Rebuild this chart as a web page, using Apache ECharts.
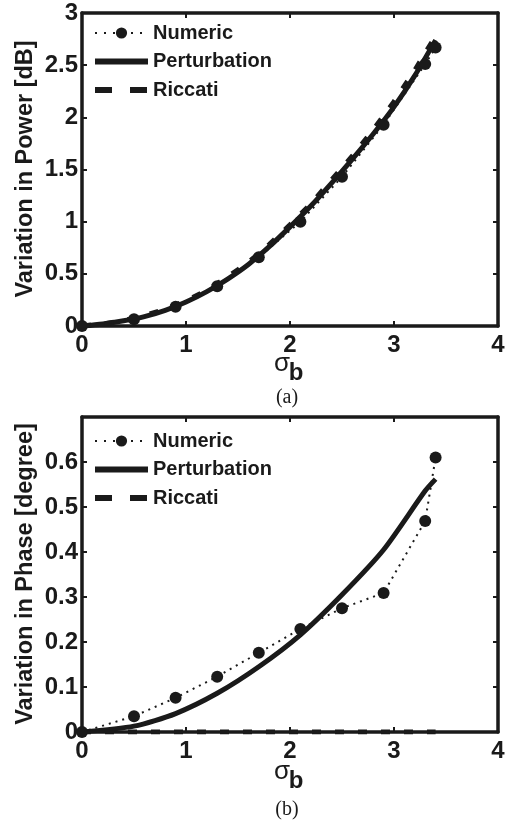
<!DOCTYPE html>
<html>
<head>
<meta charset="utf-8">
<script src="https://cdn.jsdelivr.net/npm/echarts@6/dist/echarts.min.js"></script>
<style>
  html, body { margin: 0; padding: 0; background: #fff; }
  #main { width: 513px; height: 823px; }
</style>
</head>
<body>
<div id="main"></div>
<script>
// sigma_b sample points
var numericX = [0, 0.5, 0.9, 1.3, 1.7, 2.1, 2.5, 2.9, 3.3, 3.4];
var curveX = [0, 0.2, 0.4, 0.6, 0.8, 1.0, 1.2, 1.4, 1.6, 1.8, 2.0, 2.2, 2.4, 2.6, 2.8, 3.0, 3.2, 3.4];

// (a) variation in power [dB]
var powerNumeric = [0, 0.065, 0.185, 0.38, 0.66, 1.0, 1.43, 1.93, 2.51, 2.67];
var powerPert = [0, 0.02, 0.05, 0.09, 0.15, 0.23, 0.33, 0.45, 0.59, 0.76, 0.95, 1.15, 1.37, 1.6, 1.84, 2.1, 2.4, 2.74];
var powerRiccati = [0, 0.02, 0.05, 0.10, 0.16, 0.24, 0.34, 0.47, 0.61, 0.78, 0.97, 1.17, 1.40, 1.63, 1.88, 2.15, 2.45, 2.78];

// (b) variation in phase [degree]
var pertX = [0, 0.5, 0.9, 1.3, 1.7, 2.1, 2.5, 2.9, 3.3, 3.4];
var phaseNumeric = [0, 0.035, 0.076, 0.123, 0.176, 0.229, 0.275, 0.309, 0.469, 0.61];
var phasePert = [0, 0.013, 0.041, 0.086, 0.145, 0.216, 0.305, 0.405, 0.536, 0.562];
var riccatiX = [0, 3.4];
var phaseRiccati = [0, 0];

// axis ticks
var xTicks = [0, 1, 2, 3, 4];
var powerTicks = [0, 0.5, 1, 1.5, 2, 2.5, 3];
var phaseTicks = [0, 0.1, 0.2, 0.3, 0.4, 0.5, 0.6, 0.7];

var names = ['Numeric', 'Perturbation', 'Riccati'];

function pairs(xs, ys) {
  return xs.map(function (x, i) { return [x, ys[i]]; });
}

var black = '#1a1a1a';
var font = 'Liberation Sans';
var labelStyle = { color: black, fontSize: 24, fontWeight: 'bold', fontFamily: font };
var lineStyle = { color: black, width: 3.5 };

function xAxes(grid) {
  var base = {
    type: 'value', gridIndex: grid,
    min: xTicks[0], max: xTicks[xTicks.length - 1], interval: xTicks[1] - xTicks[0],
    splitLine: { show: false },
    axisLine: { onZero: false, lineStyle: lineStyle },
    axisTick: { inside: true, length: 5, lineStyle: { color: black, width: 2 } }
  };
  var bottom = Object.assign({}, base, {
    position: 'bottom',
    axisLabel: Object.assign({ margin: 7 }, labelStyle)
  });
  var top = Object.assign({}, base, { position: 'top', axisLabel: { show: false } });
  return [bottom, top];
}

function yAxes(grid, ticks, hideMax) {
  var base = {
    type: 'value', gridIndex: grid,
    min: ticks[0], max: ticks[ticks.length - 1], interval: ticks[1] - ticks[0],
    splitLine: { show: false },
    axisLine: { onZero: false, lineStyle: lineStyle },
    axisTick: { inside: true, length: 5, lineStyle: { color: black, width: 2 } }
  };
  var left = Object.assign({}, base, {
    position: 'left',
    axisLabel: Object.assign({ margin: 4, showMaxLabel: !hideMax }, labelStyle)
  });
  var right = Object.assign({}, base, { position: 'right', axisLabel: { show: false } });
  return [left, right];
}

function seriesFor(grid, numX, numY, pX, pY, rX, rY) {
  return [
    {
      name: names[0], type: 'line', xAxisIndex: grid * 2, yAxisIndex: grid * 2,
      data: pairs(numX, numY),
      symbol: 'circle', symbolSize: 12,
      itemStyle: { color: black },
      lineStyle: { color: black, width: 2, type: [2, 5] },
      z: 4
    },
    {
      name: names[1], type: 'line', xAxisIndex: grid * 2, yAxisIndex: grid * 2,
      data: pairs(pX, pY),
      symbol: 'none', smooth: 0.25,
      itemStyle: { color: black },
      lineStyle: { color: black, width: 5 },
      z: 3
    },
    {
      name: names[2], type: 'line', xAxisIndex: grid * 2, yAxisIndex: grid * 2,
      data: pairs(rX, rY),
      symbol: 'none',
      itemStyle: { color: black },
      lineStyle: { color: black, width: 5, type: [9, 14] },
      z: 3
    }
  ];
}

function legendFor(top) {
  return {
    orient: 'vertical', left: 87, top: top,
    itemWidth: 53, itemHeight: 14, itemGap: 8.5,
    data: [
      { name: names[0], lineStyle: { width: 2, type: [2, 7] } },
      { name: names[1], itemStyle: { opacity: 0 }, lineStyle: { width: 6, type: 'solid' } },
      { name: names[2], itemStyle: { opacity: 0 }, lineStyle: { width: 6, type: [17, 18] } }
    ],
    textStyle: { color: black, fontSize: 20, fontWeight: 'bold', fontFamily: font, lineHeight: 20 }
  };
}

// axis titles
function yTitle(text, cy) {
  return {
    type: 'text', x: 26, y: cy, rotation: Math.PI / 2,
    style: { text: text, fill: black, font: 'bold 23.5px "Liberation Sans"', align: 'center', verticalAlign: 'middle' }
  };
}
function xTitle(cy) {
  return [
    { type: 'text', x: 282, y: cy, style: { text: 'σ', fill: black, font: '26px "Liberation Sans"', align: 'center', verticalAlign: 'middle' } },
    { type: 'text', x: 296, y: cy + 9, style: { text: 'b', fill: black, font: 'bold 24px "Liberation Sans"', align: 'center', verticalAlign: 'middle' } }
  ];
}

var chart = echarts.init(document.getElementById('main'), null, { renderer: 'canvas' });
var xa = xAxes(0).concat(xAxes(1));
var ya = yAxes(0, powerTicks, false).concat(yAxes(1, phaseTicks, true));

chart.setOption({
  backgroundColor: '#fff',
  animation: false,
  title: [
    { text: '(a)', left: 282, top: 383, textAlign: 'center',
      textStyle: { fontFamily: 'Liberation Serif', fontWeight: 'normal', fontSize: 20, color: black } },
    { text: '(b)', left: 282, top: 795, textAlign: 'center',
      textStyle: { fontFamily: 'Liberation Serif', fontWeight: 'normal', fontSize: 20, color: black } }
  ],
  graphic: [yTitle('Variation in Power [dB]', 169), yTitle('Variation in Phase [degree]', 574)]
    .concat(xTitle(364), xTitle(772)),
  legend: [legendFor(18), legendFor(426)],
  grid: [
    { left: 82, top: 13, width: 416, height: 313 },
    { left: 82, top: 417, width: 416, height: 315 }
  ],
  xAxis: xa,
  yAxis: ya,
  series: seriesFor(0, numericX, powerNumeric, curveX, powerPert, curveX, powerRiccati)
    .concat(seriesFor(1, numericX, phaseNumeric, pertX, phasePert, riccatiX, phaseRiccati))
});
</script>
</body>
</html>
